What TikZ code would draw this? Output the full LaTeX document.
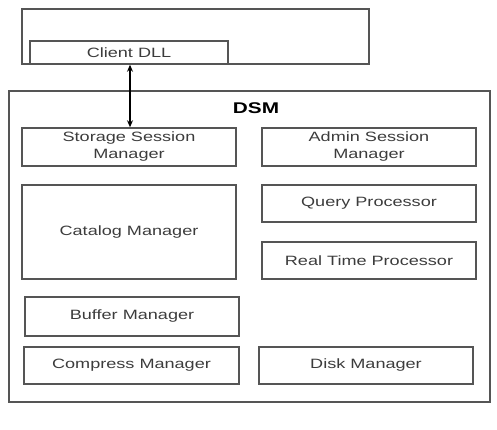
\documentclass[tikz,border=0pt]{standalone}
\usepackage{fontspec}
\setmainfont[FakeStretch=1.34]{Liberation Sans}
\usetikzlibrary{arrows.meta}
\definecolor{edge}{RGB}{85,85,85}
\definecolor{txt}{RGB}{60,60,60}
\begin{document}
\begin{tikzpicture}[x=1pt,y=-1pt,
  box/.style={draw=edge,line width=1.5pt,inner sep=0pt,align=center,
    text=txt,font=\fontsize{13.5}{17}\selectfont},
  link/.style={{Stealth[length=7pt,width=6pt]}-{Stealth[length=7pt,width=6pt]},line width=1.2pt,black}]
\useasboundingbox (0,0) rectangle (497,430);
\node[box,minimum width=347pt,minimum height=55pt] (client) at (195.5,36.5) {};
\node[box,minimum width=198pt,minimum height=23pt] (dll) at (129,52.5) {Client DLL};
\node[box,minimum width=481pt,minimum height=311pt] (dsm) at (249.5,246.5) {};
\node[text=black,font=\bfseries\fontsize{15.5}{18}\selectfont] (dsmlabel) at (256,108) {DSM};
\node[box,minimum width=214pt,minimum height=38pt] (ssm) at (129,147) {Storage Session\\Manager};
\node[box,minimum width=214pt,minimum height=38pt] (asm) at (369,147) {Admin Session\\Manager};
\node[box,minimum width=214pt,minimum height=94pt] (cat) at (129,232) {Catalog Manager};
\node[box,minimum width=214pt,minimum height=37pt] (qp) at (369,203.5) {Query Processor};
\node[box,minimum width=214pt,minimum height=37pt] (rtp) at (369,260.5) {Real Time Processor};
\node[box,minimum width=214pt,minimum height=39pt] (buf) at (132,316.5) {Buffer Manager};
\node[box,minimum width=215pt,minimum height=37pt] (comp) at (131.5,365.5) {Compress Manager};
\node[box,minimum width=214pt,minimum height=37pt] (disk) at (366,365.5) {Disk Manager};
\draw[link] ([xshift=1pt]dll.south) -- ([xshift=1pt]ssm.north);
\end{tikzpicture}
\end{document}
